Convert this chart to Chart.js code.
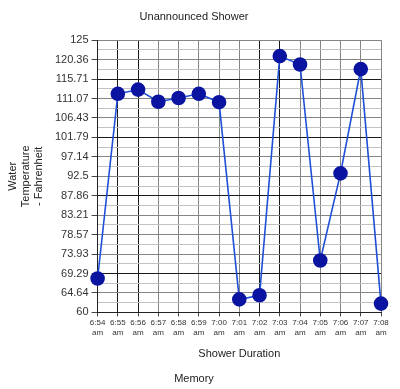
<!DOCTYPE html>
<html>
<head>
<meta charset="utf-8">
<script src="https://cdn.jsdelivr.net/npm/chart.js@4/dist/chart.umd.min.js"></script>
<style>
  html, body { margin: 0; padding: 0; background: #fff; }
  #wrap { width: 400px; height: 389px; }
</style>
</head>
<body>
<div id="wrap"><canvas id="chartDucha"></canvas></div>
<script>
const minutos = ['6:54', '6:55', '6:56', '6:57', '6:58', '6:59', '7:00', '7:01', '7:02', '7:03', '7:04', '7:05', '7:06', '7:07', '7:08'];
const temperaturas = [68.1, 112.2, 113.2, 110.3, 111.2, 112.2, 110.2, 63.1, 64.1, 121.2, 119.2, 72.4, 93.2, 118.1, 62.1];
const etiquetasY = ['60', '64.64', '69.29', '73.93', '78.57', '83.21', '87.86', '92.5', '97.14', '101.79', '106.43', '111.07', '115.71', '120.36', '125'];

const yMin = 60, yMax = 125;
const nLineas = (etiquetasY.length - 1) * 2; // una linea menor entre cada etiqueta
const lineasFuertesY = [2, 6, 9, 12];       // indice de etiqueta, desde abajo
const lineasFuertesX = [1, 2, 8, 9];

const fuente = 'Liberation Sans, Arial, sans-serif';
const ctx = document.getElementById('chartDucha').getContext('2d');

new Chart(ctx, {
    type: 'line',
    data: {
        labels: minutos.map(m => [m, 'am']),
        datasets: [{
            label: 'Memory',
            data: temperaturas,
            borderColor: '#1f4fd6',
            borderWidth: 1.6,
            backgroundColor: '#0a14a0',
            pointBackgroundColor: '#0a14a0',
            pointBorderColor: '#0a14a0',
            pointRadius: 6.5,
            pointHoverRadius: 6.5,
            tension: 0
        }]
    },
    options: {
        responsive: true,
        maintainAspectRatio: false,
        animation: false,
        layout: { padding: { left: 7, right: 19, top: 6, bottom: 1 } },
        plugins: {
            legend: { display: false },
            tooltip: { enabled: false },
            title: {
                display: true,
                text: 'Unannounced Shower',
                color: '#222',
                font: { family: fuente, size: 11, weight: 'normal' },
                padding: { top: 4, bottom: 17 }
            },
            subtitle: {
                display: true,
                position: 'bottom',
                text: 'Memory',
                color: '#222',
                font: { family: fuente, size: 11, weight: 'normal' },
                padding: { top: 12, bottom: 2 }
            }
        },
        scales: {
            x: {
                offset: false,
                border: { color: '#222', width: 1 },
                grid: {
                    color: c => lineasFuertesX.includes(c.index) ? '#1a1a1a' : '#858585',
                    tickColor: '#444',
                    tickLength: 4,
                    lineWidth: 1
                },
                ticks: {
                    color: '#333',
                    font: { family: fuente, size: 8 },
                    maxRotation: 0,
                    autoSkip: false,
                    padding: 2
                },
                title: {
                    display: true,
                    text: 'Shower Duration',
                    color: '#222',
                    font: { family: fuente, size: 11 },
                    padding: { top: 8, bottom: 0 }
                }
            },
            y: {
                min: yMin,
                max: yMax,
                border: { color: '#222', width: 1 },
                afterBuildTicks: axis => {
                    const ticks = [];
                    for (let i = 0; i <= nLineas; i++) {
                        ticks.push({ value: yMin + i * (yMax - yMin) / nLineas });
                    }
                    axis.ticks = ticks;
                },
                grid: {
                    color: c => {
                        if (c.index % 2 === 1) return '#c2c2c2';
                        return lineasFuertesY.includes(c.index / 2) ? '#1a1a1a' : '#858585';
                    },
                    tickColor: c => c.index % 2 === 1 ? 'rgba(0,0,0,0)' : '#444',
                    tickLength: 6,
                    lineWidth: 1
                },
                ticks: {
                    color: '#333',
                    font: { family: fuente, size: 11 },
                    padding: 3,
                    autoSkip: false,
                    callback: (v, i) => i % 2 === 0 ? etiquetasY[i / 2] : ''
                },
                title: {
                    display: true,
                    text: ['Water', 'Temperature', '- Fahrenheit'],
                    color: '#222',
                    font: { family: fuente, size: 11, lineHeight: 1.15 },
                    padding: { top: 0, bottom: 7 }
                }
            }
        }
    }
});
</script>
</body>
</html>
